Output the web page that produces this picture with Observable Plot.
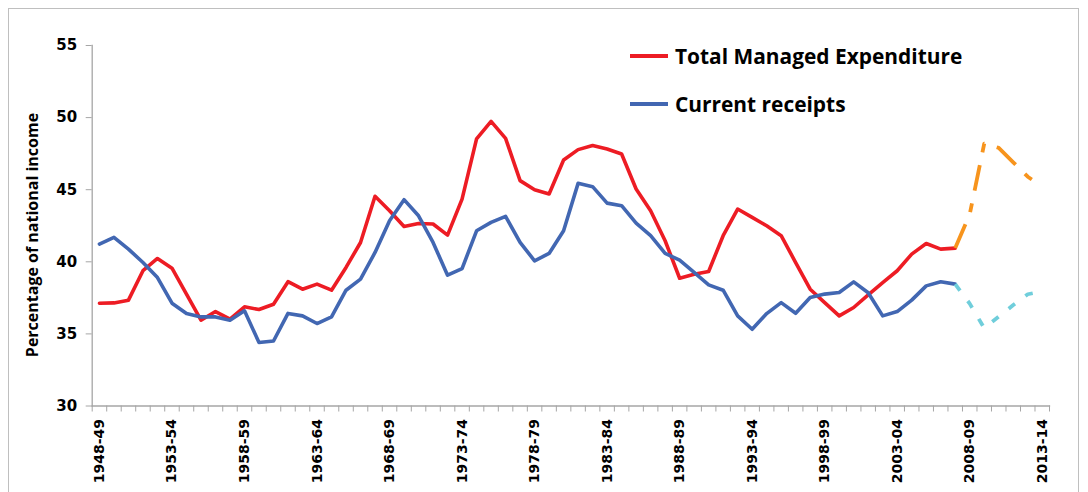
<!DOCTYPE html>
<html>
<head>
<meta charset="utf-8">
<script src="https://cdn.jsdelivr.net/npm/d3@7"></script>
<script src="https://cdn.jsdelivr.net/npm/@observablehq/plot@0.6"></script>
<style>
  html, body { margin: 0; padding: 0; background: #fff; }
  #wrap { position: relative; width: 1088px; height: 492px; overflow: hidden; }
  #frame { position: absolute; left: 8px; top: 8px; width: 1071px; height: 500px; border: 1px solid #bfbfbf; box-sizing: border-box; }
  #chart { position: absolute; left: 0; top: 0; }
  #ytitle { position: absolute; left: 32px; top: 235px; transform: translate(-50%, -50%) rotate(-90deg); white-space: nowrap;
            font-family: "Open Sans", Lato, sans-serif; font-weight: 700; font-size: 16px; color: #000; }
  .leg { position: absolute; display: flex; align-items: center; white-space: nowrap;
         font-family: "Open Sans", Lato, sans-serif; font-weight: 700; font-size: 20.9px; color: #000; }
  .leg .sw { width: 38px; height: 3.5px; margin-right: 7px; }
</style>
</head>
<body>
<div id="wrap">
  <div id="frame"></div>
  <div id="chart"></div>
  <div id="ytitle">Percentage of national income</div>
  <div class="leg" style="left:630px; top:42px;"><div class="sw" style="background:#ed1c24"></div><span>Total Managed Expenditure</span></div>
  <div class="leg" style="left:630px; top:90px;"><div class="sw" style="background:#4267b2"></div><span>Current receipts</span></div>
</div>
<script>
const categories = [
  "1948-49","1949-50","1950-51","1951-52","1952-53","1953-54","1954-55","1955-56","1956-57","1957-58",
  "1958-59","1959-60","1960-61","1961-62","1962-63","1963-64","1964-65","1965-66","1966-67","1967-68",
  "1968-69","1969-70","1970-71","1971-72","1972-73","1973-74","1974-75","1975-76","1976-77","1977-78",
  "1978-79","1979-80","1980-81","1981-82","1982-83","1983-84","1984-85","1985-86","1986-87","1987-88",
  "1988-89","1989-90","1990-91","1991-92","1992-93","1993-94","1994-95","1995-96","1996-97","1997-98",
  "1998-99","1999-00","2000-01","2001-02","2002-03","2003-04","2004-05","2005-06","2006-07","2007-08",
  "2008-09","2009-10","2010-11","2011-12","2012-13","2013-14"
];
const tickLabels = ["1948-49","1953-54","1958-59","1963-64","1968-69","1973-74","1978-79","1983-84","1988-89","1993-94","1998-99","2003-04","2008-09","2013-14"];
const yTicks = [30, 35, 40, 45, 50, 55];

// Outturn, 1948-49 to 2007-08
const totalManagedExpenditure = [
  37.13, 37.15, 37.34, 39.38, 40.23, 39.56, 37.76, 35.95, 36.55, 36.02,
  36.88, 36.69, 37.06, 38.62, 38.10, 38.45, 38.03, 39.61, 41.34, 44.54,
  43.54, 42.45, 42.66, 42.62, 41.85, 44.35, 48.52, 49.74, 48.56, 45.63,
  45.00, 44.70, 47.06, 47.78, 48.06, 47.82, 47.48, 45.05, 43.54, 41.46,
  38.86, 39.14, 39.33, 41.81, 43.66, 43.08, 42.50, 41.81, 39.95, 38.10,
  37.17, 36.25, 36.83, 37.70, 38.56, 39.38, 40.53, 41.27, 40.88, 40.95
];
const currentReceipts = [
  41.23, 41.69, 40.88, 39.95, 38.91, 37.13, 36.41, 36.18, 36.18, 35.95,
  36.60, 34.40, 34.51, 36.42, 36.25, 35.72, 36.18, 38.03, 38.80, 40.65,
  42.85, 44.31, 43.19, 41.34, 39.07, 39.53, 42.15, 42.73, 43.15, 41.34,
  40.07, 40.58, 42.15, 45.44, 45.21, 44.07, 43.89, 42.68, 41.81, 40.58,
  40.12, 39.26, 38.40, 38.03, 36.25, 35.32, 36.41, 37.17, 36.43, 37.52,
  37.76, 37.87, 38.61, 37.85, 36.25, 36.55, 37.34, 38.33, 38.61, 38.45
];
// Projections, 2007-08 to 2013-14
const projectionStart = "2007-08";
const tmeProjection = [40.95, 43.3, 48.2, 47.9, 46.9, 45.9, 45.2];
const receiptsProjection = [38.45, 37.1, 35.4, 36.2, 37.0, 37.75, 37.95];

const toRows = (vals, start) => vals.map((v, k) => ({i: start + k, v}));
const p0 = categories.indexOf(projectionStart);
const tmeRows = toRows(totalManagedExpenditure, 0);
const recRows = toRows(currentReceipts, 0);
const tmePRows = toRows(tmeProjection, p0);
const recPRows = toRows(receiptsProjection, p0);

const n = categories.length;
const boundaries = d3.range(n + 1).map(k => k - 0.5);
const labelIdx = tickLabels.map(t => categories.indexOf(t));
const axisColor = "#a6a6a6";
const tickFont = "'DejaVu Sans', Verdana, sans-serif";

const chart = Plot.plot({
  width: 1088,
  height: 492,
  marginLeft: 91.7,
  marginRight: 39,
  marginTop: 45,
  marginBottom: 86.5,
  style: {fontFamily: tickFont, background: "transparent", overflow: "visible"},
  x: {type: "linear", domain: [-0.5, n - 0.5]},
  y: {domain: [30, 55]},
  marks: [
    Plot.frame({anchor: "left", stroke: axisColor, strokeWidth: 1.3}),
    Plot.frame({anchor: "bottom", stroke: axisColor, strokeWidth: 1.3}),
    Plot.axisY({ticks: yTicks, tickSize: 6, tickPadding: 9, stroke: axisColor, fill: "#000",
                fontSize: 15, fontWeight: "bold", label: null}),
    Plot.axisX({ticks: boundaries, tickSize: 6, tickFormat: () => "", stroke: axisColor, label: null}),
    Plot.axisX({ticks: labelIdx, tickSize: 0, tickPadding: 13, tickRotate: -90,
                tickFormat: i => categories[i], fill: "#000", fontSize: 14, fontWeight: "bold", label: null}),
    Plot.line(tmeRows, {x: "i", y: "v", stroke: "#ed1c24", strokeWidth: 3.6, strokeLinejoin: "round"}),
    Plot.line(recRows, {x: "i", y: "v", stroke: "#4267b2", strokeWidth: 3.6, strokeLinejoin: "round"}),
    Plot.line(tmePRows, {x: "i", y: "v", stroke: "#f7941d", strokeWidth: 3.8, strokeLinecap: "butt",
                         strokeDasharray: "26,13,9,13"}),
    Plot.line(recPRows, {x: "i", y: "v", stroke: "#70cedb", strokeWidth: 3.8, strokeLinecap: "butt",
                         strokeDasharray: "8,13"})
  ]
});
document.getElementById("chart").appendChild(chart);
</script>
</body>
</html>
